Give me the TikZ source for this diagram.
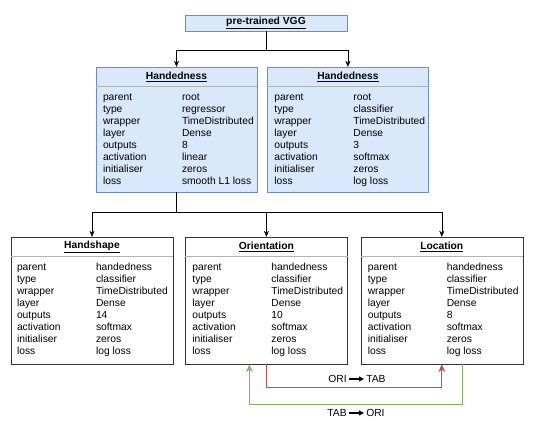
\documentclass[tikz,border=0pt]{standalone}
\usepackage{fontspec}
\setmainfont{Liberation Sans}
\usetikzlibrary{positioning,arrows.meta}
\definecolor{HeadFill}{HTML}{DAE8FC}
\definecolor{HeadLine}{HTML}{6C8EBF}
\definecolor{SwapRed}{HTML}{B85450}
\definecolor{SwapGreen}{HTML}{82B366}
\newcommand\plist[8]{%
  \begin{tabular}{@{}p{79pt}@{}l@{}}
    parent&#1\\ type&#2\\ wrapper&#3\\ layer&#4\\
    outputs&#5\\ activation&#6\\ initialiser&#7\\ loss&#8
  \end{tabular}}
\newcommand\toarr{\,\tikz[baseline=-3.6pt]\draw[-{Triangle[length=5pt,width=5pt]},line width=1.2pt] (0pt,0pt) -- (15pt,0pt);\,}

\begin{document}
\begin{tikzpicture}[x=1pt,y=-1pt,>={Stealth[length=6pt,width=5pt]},
      font=\fontsize{10.3}{12}\selectfont,
      hd/.style={draw=HeadLine,fill=HeadFill,minimum width=161pt,minimum height=125pt,inner sep=0pt},
      ly/.style={draw=black!80,fill=white,minimum width=162pt,minimum height=127pt,inner sep=0pt},
      ttl/.style={font=\fontsize{10.3}{12}\selectfont\bfseries,inner sep=0pt},
      tb/.style={anchor=north west,inner sep=0pt,align=left},
      sep/.style={draw=black!30,line width=1pt},
      ar/.style={->,draw=black},
      sw/.style={-{Stealth[length=8pt,width=7pt]},line width=1.2pt}]
    \useasboundingbox (0,0) rectangle (538,429);
    % base network and the two handedness heads
    \node[draw=HeadLine,fill=HeadFill,minimum width=162pt,minimum height=16pt,
          font=\fontsize{10.3}{12}\selectfont\bfseries,inner sep=0pt] (vgg) at (266,23) {\underline{pre-trained VGG}};
    \node[hd] (hl) at (176.5,129.5) {};
    \node[hd,right=10pt of hl] (hr) {};
    % layers that hang off the handedness head
    \node[ly] (hs) at (92,300.5) {};
    \node[ly,right=12pt of hs] (ori) {};
    \node[ly,right=13pt of ori] (loc) {};
    \foreach \b/\t in {hl/Handedness,hr/Handedness,hs/Handshape,ori/Orientation,loc/Location}{
      \node[ttl] (\b-t) at ([yshift=-10pt]\b.north) {\underline{\t}};
      \draw[sep] ([yshift=-19.5pt]\b.north west) -- ([yshift=-19.5pt]\b.north east);
    }
    \node[tb] (hl-p) at ([xshift=7pt,yshift=-25pt]hl.north west)
      {\plist{root}{regressor}{TimeDistributed}{Dense}{8}{linear}{zeros}{smooth L1 loss}};
    \node[tb] (hr-p) at ([xshift=7pt,yshift=-25pt]hr.north west)
      {\plist{root}{classifier}{TimeDistributed}{Dense}{3}{softmax}{zeros}{log loss}};
    \node[tb] (hs-p) at ([xshift=6pt,yshift=-25pt]hs.north west)
      {\plist{handedness}{classifier}{TimeDistributed}{Dense}{14}{softmax}{zeros}{log loss}};
    \node[tb] (ori-p) at ([xshift=7pt,yshift=-25pt]ori.north west)
      {\plist{handedness}{classifier}{TimeDistributed}{Dense}{10}{softmax}{zeros}{log loss}};
    \node[tb] (loc-p) at ([xshift=7pt,yshift=-25pt]loc.north west)
      {\plist{handedness}{classifier}{TimeDistributed}{Dense}{8}{softmax}{zeros}{log loss}};
    % connectors
    \draw[ar] (vgg.south) -- ++(0,19) -| (hl.north);
    \draw[ar] (vgg.south) -- ++(0,19) -| (hr.north);
    \foreach \b in {hs,ori,loc}
      \draw[ar] (hl.south) -- ++(0,20) -| (\b.north);
    \draw[sw,draw=SwapRed] (ori.south) -- ++(0,23) -| (loc.south);
    \draw[sw,draw=SwapGreen] ([xshift=21pt]loc.south) -- ++(0,40) -| ([xshift=-17pt]ori.south);
    \node (o2t) at (357,379) {ORI\toarr TAB};
    \node (t2o) at (356,413) {TAB\toarr ORI};
  \end{tikzpicture}
\end{document}
